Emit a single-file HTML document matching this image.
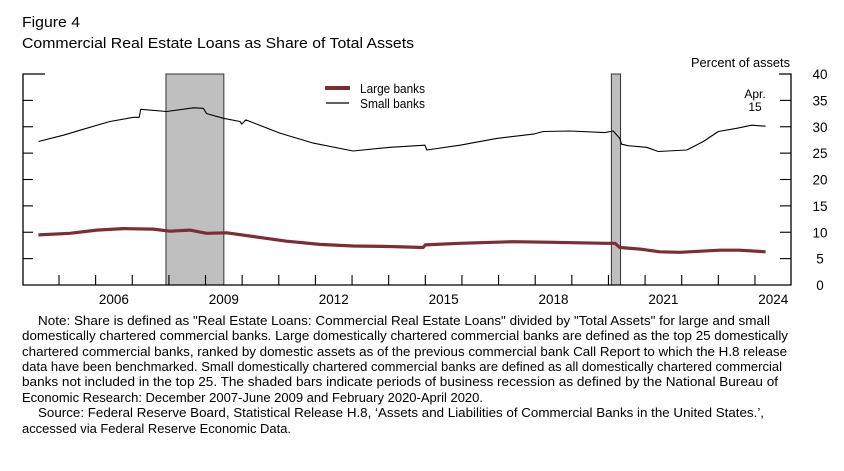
<!DOCTYPE html>
<html><head><meta charset="utf-8"><style>
body{margin:0;background:#fff;width:844px;height:471px;overflow:hidden;font-family:"Liberation Sans",Arial,sans-serif;color:#000}
svg{position:absolute;left:0;top:0}
</style></head><body>
<svg width="844" height="471" id="chart" font-family="Liberation Sans, Arial, sans-serif">
<text x="22" y="27" font-size="14.5" textLength="58" lengthAdjust="spacingAndGlyphs">Figure 4</text>
<text x="22" y="48" font-size="14.5" textLength="392" lengthAdjust="spacingAndGlyphs">Commercial Real Estate Loans as Share of Total Assets</text>
<g font-size="12.6" lengthAdjust="spacingAndGlyphs">
<text x="38" y="325" textLength="732" lengthAdjust="spacingAndGlyphs">Note: Share is defined as "Real Estate Loans: Commercial Real Estate Loans" divided by "Total Assets" for large and small</text>
<text x="22" y="340" textLength="766" lengthAdjust="spacingAndGlyphs">domestically chartered commercial banks. Large domestically chartered commercial banks are defined as the top 25 domestically</text>
<text x="22" y="356" textLength="765" lengthAdjust="spacingAndGlyphs">chartered commercial banks, ranked by domestic assets as of the previous commercial bank Call Report to which the H.8 release</text>
<text x="22" y="371" textLength="760" lengthAdjust="spacingAndGlyphs">data have been benchmarked. Small domestically chartered commercial banks are defined as all domestically chartered commercial</text>
<text x="22" y="386" textLength="756" lengthAdjust="spacingAndGlyphs">banks not included in the top 25. The shaded bars indicate periods of business recession as defined by the National Bureau of</text>
<text x="22" y="402" textLength="461" lengthAdjust="spacingAndGlyphs">Economic Research: December 2007-June 2009 and February 2020-April 2020.</text>
<text x="38" y="417" textLength="726" lengthAdjust="spacingAndGlyphs">Source: Federal Reserve Board, Statistical Release H.8, ‘Assets and Liabilities of Commercial Banks in the United States.’,</text>
<text x="22" y="433" textLength="269" lengthAdjust="spacingAndGlyphs">accessed via Federal Reserve Economic Data.</text>
</g>
</svg>
<script>
const smallT=[2004.44,2005.12,2005.75,2006.39,2007.03,2007.19,2007.23,2007.94,2008.67,2008.94,2009.03,2009.49,2009.94,2009.99,2010.1,2011.03,2011.94,2013.03,2014.04,2014.99,2015.04,2015.95,2016.95,2017.95,2018.22,2018.95,2019.9,2020.13,2020.31,2020.36,2020.54,2021.04,2021.36,2022.14,2022.59,2023.0,2023.5,2023.91,2024.29];
const smallV=[27.2,28.4,29.7,31.0,31.8,31.8,33.3,32.9,33.6,33.5,32.5,31.6,31.0,30.5,31.3,28.8,26.9,25.4,26.1,26.5,25.6,26.5,27.8,28.6,29.1,29.2,28.9,29.2,27.8,26.7,26.4,26.1,25.3,25.6,27.2,29.1,29.7,30.3,30.1];
const largeT=[2004.44,2005.3,2006.03,2006.75,2007.57,2008.03,2008.57,2009.03,2009.58,2010.3,2011.21,2012.12,2013.03,2014.03,2014.94,2015.0,2015.95,2017.4,2018.5,2019.9,2020.18,2020.31,2020.86,2021.4,2021.95,2023.04,2023.58,2024.29];
const largeV=[9.5,9.8,10.4,10.7,10.6,10.2,10.4,9.8,9.9,9.2,8.3,7.7,7.4,7.3,7.1,7.6,7.9,8.2,8.1,7.9,7.9,7.1,6.8,6.3,6.2,6.6,6.6,6.3];
const yTicks=[0,5,10,15,20,25,30,35,40];
const xYears=[2005,2006,2007,2008,2009,2010,2011,2012,2013,2014,2015,2016,2017,2018,2019,2020,2021,2022,2023,2024];
const xLabels=[2006,2009,2012,2015,2018,2021,2024];
const recessions=[[2007.92,2009.5],[2020.08,2020.33]];
const NS='http://www.w3.org/2000/svg';
const svg=document.getElementById('chart');
const L=23,R=791,T=74,B=285;
const x=t=>59+(t-2005)*36.63;
const y=v=>B-(v/40)*(B-T);
function mk(tag,a,parent){const e=document.createElementNS(NS,tag);for(const k in a)e.setAttribute(k,a[k]);(parent||svg).appendChild(e);return e;}
recessions.forEach(r=>{const e=mk('rect',{x:x(r[0]),y:T,width:x(r[1])-x(r[0]),height:B-T,fill:'#bfbfbf',stroke:'#333','stroke-width':1});

});
let a=mk('path',{d:`M${L+22},${T}H${L}V${B}H${R}V${T}H${R-12}`,fill:'none',stroke:'#000','stroke-width':1.3});


yTicks.forEach(v=>{if(v>0&&v<40){mk('line',{x1:L,x2:L+10,y1:y(v),y2:y(v),stroke:'#000','stroke-width':1.1});mk('line',{x1:R-11,x2:R,y1:y(v),y2:y(v),stroke:'#000','stroke-width':1.1});}
const t=mk('text',{x:820,y:y(v)+5,'text-anchor':'middle','font-size':13.5});t.textContent=v;

});
xYears.forEach(yr=>{mk('line',{x1:x(yr),x2:x(yr),y1:B,y2:B-10,stroke:'#000','stroke-width':1.1});});
xLabels.forEach(yr=>{const t=mk('text',{x:x(yr+0.5),y:304,'text-anchor':'middle','font-size':13.5});t.textContent=yr;

});
function line(T_,V_,col,w,name){const d=T_.map((t,i)=>(i?'L':'M')+x(t).toFixed(1)+','+y(V_[i]).toFixed(1)).join('');
const p=mk('path',{d,fill:'none',stroke:col,'stroke-width':w,'stroke-linejoin':'round'});

}
line(largeT,largeV,'#7d2d33',3.2,'large-banks-line');
line(smallT,smallV,'#000',1.1,'small-banks-line');
mk('line',{x1:325,x2:350,y1:88,y2:88,stroke:'#7d2d33','stroke-width':4});
mk('line',{x1:326,x2:349,y1:103,y2:103,stroke:'#000','stroke-width':1.2});
let t=mk('text',{x:360,y:93,'font-size':12.5,textLength:65,lengthAdjust:'spacingAndGlyphs'});t.textContent='Large banks';


t=mk('text',{x:360,y:108,'font-size':12.5,textLength:65,lengthAdjust:'spacingAndGlyphs'});t.textContent='Small banks';


t=mk('text',{x:691,y:67,'font-size':12.5,textLength:99,lengthAdjust:'spacingAndGlyphs'});t.textContent='Percent of assets';


t=mk('text',{x:755,y:98,'text-anchor':'middle','font-size':12});t.textContent='Apr.';


t=mk('text',{x:755,y:111,'text-anchor':'middle','font-size':12});t.textContent='15';


</script>
</body></html>
